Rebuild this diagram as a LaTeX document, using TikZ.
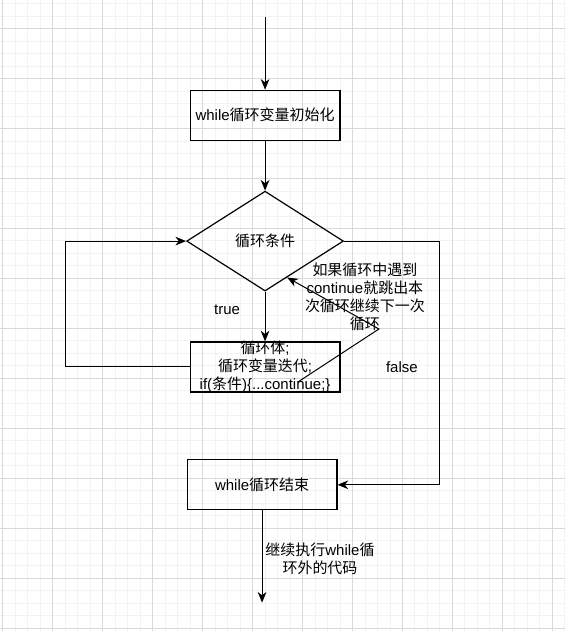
\documentclass[tikz,border=0pt]{standalone}
\usepackage{fontspec}
\setmainfont{Liberation Sans}
\newfontfamily\cjk{Noto Sans CJK SC}
\usetikzlibrary{shapes.geometric,arrows.meta,calc}
\newcommand{\zh}[1]{{\cjk #1}}

\begin{document}
\begin{tikzpicture}[
  x=0.75pt, y=-0.75pt,
  every node/.style={font=\fontsize{11.25}{13.5}\selectfont},
  box/.style={draw, line width=0.9pt, minimum width=112.5pt, minimum height=37.5pt, inner sep=0pt, align=center},
  decision/.style={draw, diamond, line width=0.9pt, minimum width=117.75pt, minimum height=75pt, inner sep=0pt},
  lbl/.style={align=center, inner sep=0pt},
  arr/.style={-{Stealth[length=8pt, width=6.5pt, inset=2.5pt]}, line width=0.75pt},
  minor/.style={gray!10, line width=0.6pt},
  major/.style={gray!30, line width=0.6pt}
]
% background grid
\fill[white] (0,0) rectangle (565,631);
\foreach \x in {2.5,15,...,565} \draw[minor] (\x,0) -- (\x,631);
\foreach \y in {3.3,15.8,...,631} \draw[minor] (0,\y) -- (565,\y);
\foreach \x in {2.5,52.5,...,565} \draw[major] (\x,0) -- (\x,631);
\foreach \y in {28.3,78.3,...,631} \draw[major] (0,\y) -- (565,\y);
\useasboundingbox (0,0) rectangle (565,631);

\node[box] (init) at (265,115) {while\zh{循环变量初始化}};
\node[decision] (cond) at (265,241) {\zh{循环条件}};
\node[box] (body) at (265,367) {};
\node[lbl] (bodytxt) at (body.center) {\zh{循环体};\\\zh{循环变量迭代};\\if(\zh{条件})\{...continue;\}};
\node[box] (done) at (262,485) {while\zh{循环结束}};

\coordinate (start) at (265,17);
\coordinate (loopL) at (65,0);
\coordinate (loopR) at (440,485);
\coordinate (cont) at (298,382);
\coordinate (bend) at (379,329);
\coordinate (hit) at ($(cond.south)!0.28!(cond.east)$);
\coordinate (exit) at (262,603);

\draw[arr] (start) -- (init);
\draw[arr] (init) -- (cond);
\draw[arr] (cond) -- (body);
\draw[arr] (body.west) -- (body.west -| loopL) |- (cond.west);
\draw[arr] (cond.east) -| (loopR) -- (done.east);
\draw[arr] (cont) -- (bend) -- (hit);
\draw[arr] (done) -- (exit);

\node[lbl] (truelbl) at (227,310) {true};
\node[lbl] (falselbl) at (402,367) {false};
\node[lbl] (contlbl) at (365,297) {\zh{如果循环中遇到}\\continue\zh{就跳出本}\\\zh{次循环继续下一次}\\\zh{循环}};
\node[lbl] (exitlbl) at (320,559) {\zh{继续执行}while\zh{循}\\\zh{环外的代码}};
\end{tikzpicture}
\end{document}
